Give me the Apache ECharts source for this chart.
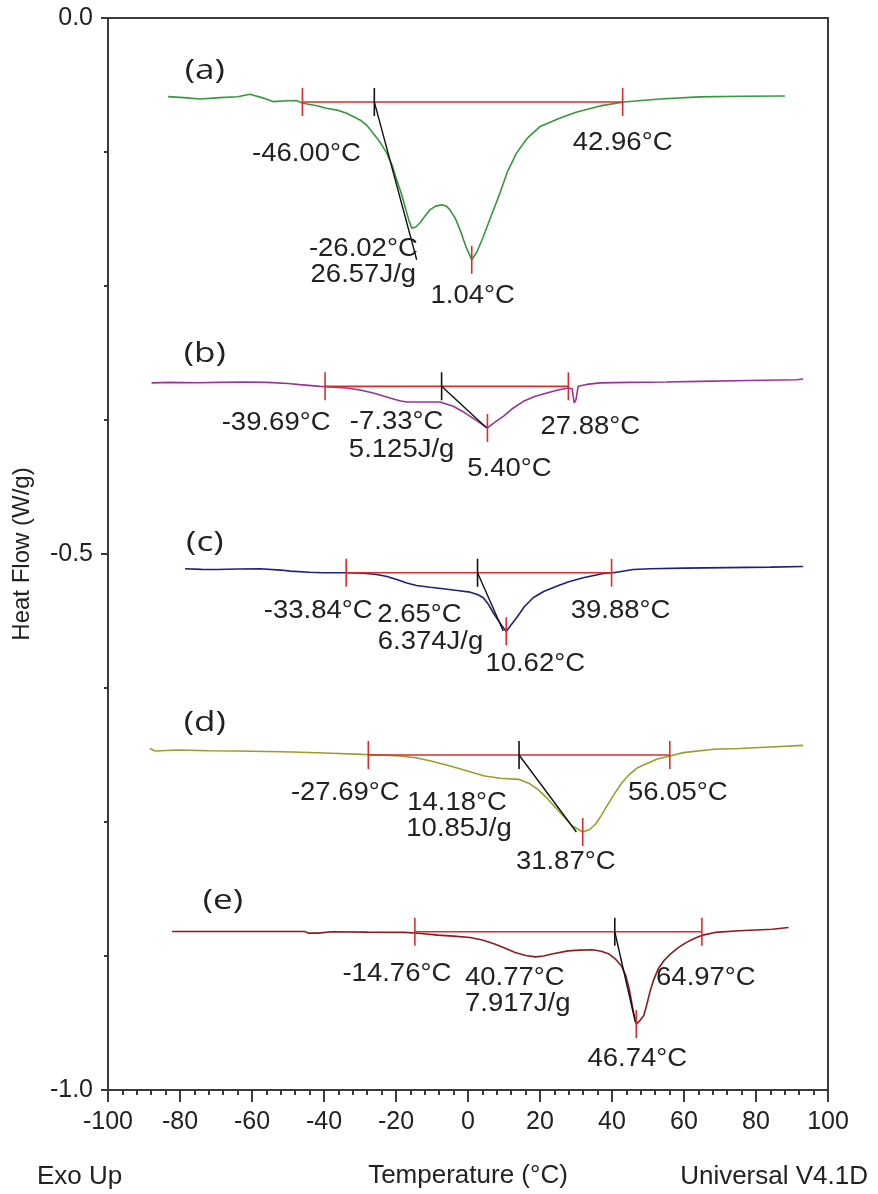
<!DOCTYPE html>
<html>
<head>
<meta charset="utf-8">
<script src="https://cdn.jsdelivr.net/npm/echarts@6/dist/echarts.min.js"></script>
<style>
  html, body { margin: 0; padding: 0; background: #fff; }
  #chart { width: 878px; height: 1194px; }
</style>
</head>
<body>
<div id="chart"></div>
<script>
// DSC heating scans of five samples, heat flow (W/g) against temperature (°C)

const tempTicks = [-100, -80, -60, -40, -20, 0, 20, 40, 60, 80, 100];
const flowTicks = [-1.0, -0.5, 0.0];

const curveA = [[-83.3,-0.0733],[-78,-0.0745],[-74.4,-0.0755],[-68.9,-0.0743],[-64,-0.0735],[-60.6,-0.0711],[-57,-0.0745],[-54.2,-0.0780],[-50,-0.0772],[-47.6,-0.0771],[-45.8,-0.0795],[-42,-0.0818],[-39.3,-0.0842],[-36,-0.0862],[-33.7,-0.0889],[-30.0,-0.0951],[-28,-0.1005],[-26.4,-0.1072],[-24.5,-0.1155],[-22.6,-0.1258],[-21,-0.1380],[-19.8,-0.1510],[-18.5,-0.1640],[-17.5,-0.1759],[-16.4,-0.1890],[-15.6,-0.1960],[-14.5,-0.1950],[-13.3,-0.1910],[-12,-0.1850],[-10.6,-0.1790],[-9,-0.1755],[-7.3,-0.1743],[-6,-0.1755],[-5.0,-0.1790],[-3.5,-0.1870],[-2.2,-0.1976],[-0.5,-0.2140],[1.04,-0.2255],[2.5,-0.2180],[4.25,-0.2041],[6.5,-0.1840],[8.9,-0.1631],[11,-0.1430],[13.5,-0.1258],[16.5,-0.1120],[20,-0.1013],[25.6,-0.0932],[30,-0.0880],[36.7,-0.0820],[43.3,-0.0783],[53.3,-0.0755],[64.4,-0.0736],[76,-0.0730],[88,-0.0727]];

const curveB = [[-87.9,-0.3404],[-82.8,-0.3399],[-75,-0.3402],[-68.9,-0.3399],[-62,-0.3396],[-55.9,-0.3399],[-50,-0.3410],[-46.7,-0.3420],[-41.1,-0.3436],[-37,-0.3443],[-33.7,-0.3451],[-30,-0.3470],[-26.3,-0.3498],[-21.7,-0.3544],[-19,-0.3570],[-17.0,-0.3582],[-12,-0.3582],[-7.8,-0.3582],[-4.1,-0.3622],[-1.5,-0.3670],[0.6,-0.3716],[3,-0.3770],[5.4,-0.3824],[7.5,-0.3770],[9.8,-0.3716],[12.5,-0.3640],[15.4,-0.3576],[18.5,-0.3530],[21.9,-0.3498],[25,-0.3470],[27.9,-0.3451],[28.9,-0.3458],[29.5,-0.3591],[30.0,-0.3560],[30.6,-0.3436],[33,-0.3418],[36.7,-0.3404],[45,-0.3399],[55,-0.3395],[64.4,-0.3390],[78,-0.3382],[91.3,-0.3374],[93.1,-0.3367]];

const curveC = [[-78.6,-0.5138],[-74,-0.5143],[-69.8,-0.5144],[-64,-0.5140],[-57.8,-0.5138],[-52,-0.5150],[-49.4,-0.5160],[-44,-0.5170],[-40.2,-0.5175],[-33.7,-0.5175],[-29,-0.5180],[-25.4,-0.5191],[-22.5,-0.5210],[-19.8,-0.5238],[-17,-0.5270],[-14.3,-0.5294],[-10.5,-0.5310],[-6.9,-0.5324],[-3,-0.5340],[0.6,-0.5356],[2.65,-0.5378],[4.25,-0.5408],[5.7,-0.5470],[7.0,-0.5548],[8.8,-0.5640],[10.62,-0.5722],[12,-0.5660],[13.5,-0.5595],[15.7,-0.5490],[18.1,-0.5408],[21,-0.5350],[24.6,-0.5300],[28,-0.5258],[32.0,-0.5222],[37.6,-0.5182],[40.4,-0.5175],[45.9,-0.5144],[50.6,-0.5138],[60,-0.5132],[72,-0.5127],[84,-0.5122],[93.1,-0.5116]];

const curveD = [[-88.4,-0.6815],[-86.9,-0.6838],[-80.5,-0.6828],[-72,-0.6835],[-64.5,-0.6838],[-56,-0.6842],[-48.6,-0.6847],[-37.9,-0.6859],[-29.4,-0.6869],[-24,-0.6875],[-18.8,-0.6884],[-14.5,-0.6900],[-10.3,-0.6931],[-6,-0.6968],[-1.8,-0.7008],[4.6,-0.7071],[9,-0.7092],[14.1,-0.7102],[17,-0.7140],[19.4,-0.7195],[22,-0.7280],[24.75,-0.7381],[27,-0.7465],[29.0,-0.7537],[31.87,-0.7593],[33.8,-0.7570],[35.4,-0.7521],[37,-0.7440],[38.6,-0.7350],[40.7,-0.7235],[42.8,-0.7132],[45,-0.7050],[47.1,-0.6993],[52.4,-0.6915],[56.1,-0.6884],[59.8,-0.6853],[68.3,-0.6822],[75.6,-0.6815],[84,-0.6800],[93.1,-0.6785]];

const curveE = [[-82.2,-0.8521],[-72,-0.8521],[-62.9,-0.8521],[-54,-0.8521],[-45.3,-0.8521],[-44.4,-0.8537],[-41.7,-0.8537],[-37.9,-0.8524],[-28,-0.8527],[-17.5,-0.8530],[-13,-0.8540],[-8.4,-0.8555],[-4,-0.8565],[0.6,-0.8577],[4,-0.8600],[7.4,-0.8639],[10.5,-0.8680],[13.1,-0.8717],[16,-0.8745],[18.75,-0.8758],[21,-0.8750],[23.3,-0.8732],[27.8,-0.8702],[31,-0.8695],[34.6,-0.8692],[37,-0.8705],[39.2,-0.8732],[41,-0.8780],[42.6,-0.8841],[43.8,-0.8930],[44.8,-0.9059],[45.8,-0.9245],[46.74,-0.9385],[47.8,-0.9350],[48.8,-0.9308],[49.7,-0.9200],[50.5,-0.9089],[51.6,-0.8970],[52.8,-0.8872],[54.5,-0.8790],[56.2,-0.8732],[58.5,-0.8670],[60.7,-0.8623],[63,-0.8585],[65.25,-0.8555],[68.6,-0.8530],[75.4,-0.8515],[84.5,-0.8500],[89.05,-0.8484]];

const sampleNames = ['(a)', '(b)', '(c)', '(d)', '(e)'];
const limitStart = [-46.00, -39.69, -33.84, -27.69, -14.76];   // °C
const limitEnd = [42.96, 27.88, 39.88, 56.05, 64.97];           // °C
const baseFlow = [-0.0783, -0.3436, -0.5175, -0.6875, -0.8524]; // W/g
const onsetTemp = [-26.02, -7.33, 2.65, 14.18, 40.77];           // °C
const tangentFoot = [[-14.25, -0.2255], [5.2, -0.3824], [9.8, -0.5719], [30.1, -0.7593], [46.5, -0.9369]];
const enthalpy = [26.57, 5.125, 6.374, 10.85, 7.917];            // J/g
const peakTemp = [1.04, 5.40, 10.62, 31.87, 46.74];              // °C
const peakFlow = [-0.2255, -0.3824, -0.5722, -0.7593, -0.9385];  // W/g
const nameTemp = -73.1;                                           // °C

// ---- styling / layout ----
const curveColors = ['#33993a', '#993399', '#1f1f80', '#9c9c2c', '#8c1c1c'];
const limitColor = '#dd2b2b';
const tangentColor = '#111111';
const textColor = '#222222';
const axisColor = '#3a3a3a';
const LABEL_FONT = '25px "Liberation Sans", Arial, sans-serif';
const NAME_FONT = '27px "Open Sans", "Liberation Sans", sans-serif';

// label offsets in px from the mark they describe: start, end, onset, enthalpy, peak
const labelShift = [
  [[4, 52], [0, 41], [-11, 147], [-11, 173], [1, 36]],
  [[-49, 37], [22, 41], [-45, 36], [-40, 64], [22, 41]],
  [[-28, 38], [9, 38], [-58, 42], [-47, 69], [29, 33]],
  [[-23, 38], [8, 38], [-62, 48], [-60, 74], [-17, 30]],
  [[-18, 42], [4, 46], [-100, 46], [-97, 72], [1, 35]]
];
const nameShift = [[0, -31], [0, -32], [0, -29], [0, -32], [18, -30]];

const curves = [curveA, curveB, curveC, curveD, curveE];
const fmtT = t => t.toFixed(2) + '°C';

// vertical marks at integration limits, onsets and peaks
const ticks = [];
const annotations = [];
for (let i = 0; i < 5; i++) {
  ticks.push({ t: limitStart[i], v: baseFlow[i], c: limitColor });
  ticks.push({ t: limitEnd[i], v: baseFlow[i], c: limitColor });
  ticks.push({ t: onsetTemp[i], v: baseFlow[i], c: tangentColor });
  ticks.push({ t: peakTemp[i], v: peakFlow[i], c: limitColor });

  const s = labelShift[i];
  annotations.push({ t: limitStart[i], v: baseFlow[i], text: fmtT(limitStart[i]), d: s[0], font: LABEL_FONT, sx: 1.1 });
  annotations.push({ t: limitEnd[i], v: baseFlow[i], text: fmtT(limitEnd[i]), d: s[1], font: LABEL_FONT, sx: 1.1 });
  annotations.push({ t: onsetTemp[i], v: baseFlow[i], text: fmtT(onsetTemp[i]), d: s[2], font: LABEL_FONT, sx: 1.1 });
  annotations.push({ t: onsetTemp[i], v: baseFlow[i], text: enthalpy[i].toPrecision(4) + 'J/g', d: s[3], font: LABEL_FONT, sx: 1.1 });
  annotations.push({ t: peakTemp[i], v: peakFlow[i], text: fmtT(peakTemp[i]), d: s[4], font: LABEL_FONT, sx: 1.1 });
  annotations.push({ t: nameTemp, v: baseFlow[i], text: sampleNames[i], d: nameShift[i], font: NAME_FONT, sx: 1.3 });
}

const series = [];
curves.forEach((c, i) => {
  series.push({
    type: 'line', data: c, symbol: 'none', z: 2,
    lineStyle: { color: curveColors[i], width: 1.6 }
  });
});
for (let i = 0; i < 5; i++) {
  series.push({
    type: 'line', symbol: 'none', z: 3,
    data: [[limitStart[i], baseFlow[i]], [limitEnd[i], baseFlow[i]]],
    lineStyle: { color: limitColor, width: 1.6 }
  });
  series.push({
    type: 'line', symbol: 'none', z: 4,
    data: [[onsetTemp[i], baseFlow[i]], tangentFoot[i]],
    lineStyle: { color: tangentColor, width: 1.4 }
  });
}
series.push({
  type: 'custom', z: 5,
  data: ticks.map(k => [k.t, k.v]),
  renderItem: (params, api) => {
    const p = api.coord([api.value(0), api.value(1)]);
    return {
      type: 'line',
      shape: { x1: p[0], y1: p[1] - 14, x2: p[0], y2: p[1] + 14 },
      style: { stroke: ticks[params.dataIndex].c, lineWidth: 1.6 }
    };
  }
});
series.push({
  type: 'custom', z: 6, clip: false,
  data: annotations.map(a => [a.t, a.v]),
  renderItem: (params, api) => {
    const a = annotations[params.dataIndex];
    const p = api.coord([api.value(0), api.value(1)]);
    return {
      type: 'text',
      x: p[0] + a.d[0], y: p[1] + a.d[1],
      scaleX: a.sx,
      style: { text: a.text, font: a.font, fill: textColor, align: 'center', verticalAlign: 'middle' }
    };
  }
});

const chart = echarts.init(document.getElementById('chart'), null, { renderer: 'canvas' });
chart.setOption({
  animation: false,
  backgroundColor: '#ffffff',
  grid: { left: 108, right: 50, top: 18, bottom: 103, show: true, borderColor: axisColor, borderWidth: 2 },
  xAxis: {
    type: 'value', position: 'bottom',
    min: tempTicks[0], max: tempTicks[tempTicks.length - 1],
    interval: tempTicks[1] - tempTicks[0],
    name: 'Temperature (°C)', nameLocation: 'middle', nameGap: 73,
    nameTextStyle: { fontFamily: 'Liberation Sans', fontSize: 26, color: textColor },
    axisLine: { onZero: false, lineStyle: { color: axisColor, width: 2 } },
    axisTick: { inside: false, length: 12, lineStyle: { color: axisColor, width: 2 } },
    minorTick: { show: true, splitNumber: 5, length: 5, lineStyle: { color: axisColor, width: 2 } },
    splitLine: { show: false },
    axisLabel: { fontFamily: 'Liberation Sans', fontSize: 25, color: textColor, margin: 20 }
  },
  yAxis: {
    type: 'value', position: 'left',
    min: flowTicks[0], max: flowTicks[flowTicks.length - 1],
    interval: flowTicks[1] - flowTicks[0],
    name: 'Heat Flow (W/g)', nameLocation: 'middle', nameGap: 74, nameRotate: 90,
    nameTextStyle: { fontFamily: 'Liberation Sans', fontSize: 24, color: textColor },
    axisLine: { onZero: false, lineStyle: { color: axisColor, width: 2 } },
    axisTick: { inside: false, length: 7, lineStyle: { color: axisColor, width: 2 } },
    minorTick: { show: true, splitNumber: 4, length: 4, lineStyle: { color: axisColor, width: 2 } },
    splitLine: { show: false },
    axisLabel: { fontFamily: 'Liberation Sans', fontSize: 25, color: textColor, margin: 15,
                 formatter: v => v.toFixed(1) }
  },
  graphic: [
    { type: 'text', left: 37, top: 1164, style: { text: 'Exo Up', font: '26px "Liberation Sans", sans-serif', fill: textColor } },
    { type: 'text', right: 10, top: 1164, style: { text: 'Universal V4.1D', font: '26px "Liberation Sans", sans-serif', fill: textColor } }
  ],
  series: series
});
</script>
</body>
</html>
